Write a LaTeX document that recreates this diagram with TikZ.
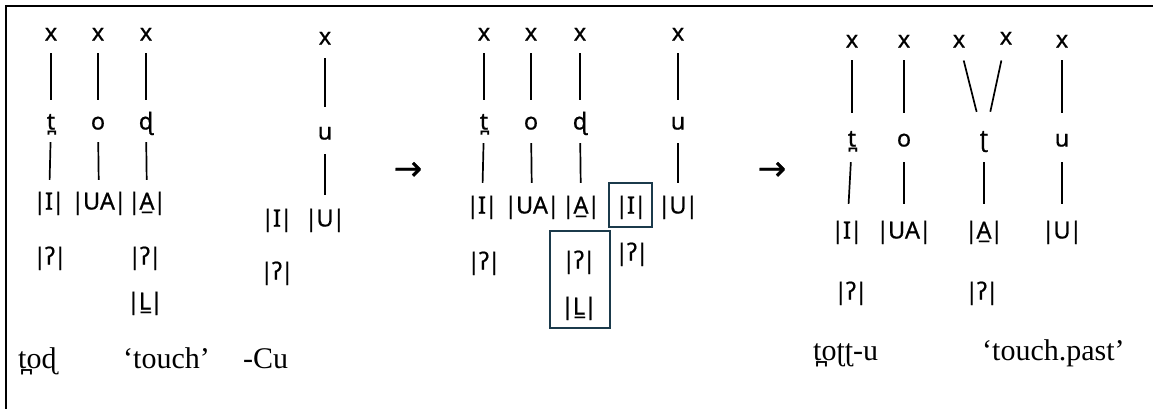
\documentclass[tikz,border=0pt]{standalone}
\usepackage{fontspec}
\newfontfamily\sansipa[FakeBold=0.6]{Noto Sans}
\newfontfamily\serifipa{Liberation Serif}
\newfontfamily\arrowfont[FakeBold=0.8]{DejaVu Sans}
\definecolor{boxc}{HTML}{1B3A4B}
% an element between bars, set a little tighter than the font's own spacing
\newcommand\elm[1]{|\kern-1.2pt#1\kern-1.2pt|}
\tikzset{
  ft/.style={font={\sansipa\fontsize{23.5}{28}\selectfont}, inner sep=0pt,
             text height=16pt, text depth=5pt, anchor=center},
  assoc/.style={line width=1.7pt, shorten <=7.5pt, shorten >=13.5pt},
  gloss/.style={font={\serifipa\fontsize{30}{34}\selectfont}, inner sep=0pt, anchor=base west},
  hl/.style={draw=boxc, line width=1.7pt, inner sep=0pt},
  arr/.style={font={\arrowfont\fontsize{34}{38}\selectfont}, inner sep=0pt}
}
\begin{document}
\begin{tikzpicture}[x=1pt,y=-1pt]
\useasboundingbox (0,0) rectangle (1153,408);
\clip (0,0) rectangle (1153,408);
% outer frame
\draw[line width=2.6pt] (6,6) rectangle (1180,440);

% ---- stem: tod 'touch'
\node[ft] (ax1) at (51,35) {x};
\node[ft] (ax2) at (98,35) {x};
\node[ft] (ax3) at (146,35) {x};
\node[ft] (as1) at (51,124) {t̪};
\node[ft] (as2) at (98,124) {o};
\node[ft] (as3) at (146,124) {ɖ};
\node[ft] (ae1) at (49,204) {\elm{I}};
\node[ft] (ae2) at (99,204) {\elm{UA}};
\node[ft] (ae3) at (147,204) {\elm{A̲}};
\node[ft] (aq1) at (50,259) {\elm{ʔ}};
\node[ft] (aq3) at (145,259) {\elm{ʔ}};
\node[ft] (aL3) at (145,304) {\elm{L̲}};
\draw[assoc, shorten >=13.5pt] (ax1) -- (as1);
\draw[assoc, shorten >=13.5pt] (ax2) -- (as2);
\draw[assoc, shorten >=13.5pt] (ax3) -- (as3);
\draw[assoc, shorten <=7.5pt, shorten >=13.5pt] (as1) -- (ae1);
\draw[assoc, shorten <=7.5pt, shorten >=13.5pt] (as2) -- (ae2);
\draw[assoc, shorten <=7.5pt, shorten >=13.5pt] (as3) -- (ae3);

% ---- suffix: -Cu
\node[ft] (bx) at (325,39) {x};
\node[ft] (bs) at (325,134) {u};
\node[ft] (be1) at (277,221) {\elm{I}};
\node[ft] (be2) at (325,221) {\elm{U}};
\node[ft] (bq1) at (277,274) {\elm{ʔ}};
\draw[assoc, shorten <=8.5pt, shorten >=16.5pt] (bx) -- (bs);
\draw[assoc, shorten <=9.5pt, shorten >=15.5pt] (bs) -- (be2);

\node[arr] (arrowA) at (408,171) {→};

% ---- concatenation
\node[ft] (cx1) at (484,35) {x};
\node[ft] (cx2) at (531,35) {x};
\node[ft] (cx3) at (580,35) {x};
\node[ft] (cx4) at (678,35) {x};
\node[ft] (cs1) at (484,124) {t̪};
\node[ft] (cs2) at (531,124) {o};
\node[ft] (cs3) at (580,124) {ɖ};
\node[ft] (cs4) at (678,124) {u};
\node[ft] (ce1) at (482,208) {\elm{I}};
\node[ft] (ce2) at (532,208) {\elm{UA}};
\node[ft] (ce3) at (581,208) {\elm{A̲}};
\node[ft] (ce4) at (631,208) {\elm{I}};
\node[ft] (ce5) at (678,208) {\elm{U}};
\node[ft] (cq1) at (484,264) {\elm{ʔ}};
\node[ft] (cq4) at (632,255) {\elm{ʔ}};
\node[ft] (cq3) at (579,263) {\elm{ʔ}};
\node[ft] (cL3) at (579,309) {\elm{L̲}};
\node[hl, minimum width=43pt, minimum height=44pt] (boxI) at (630.5,205) {};
\node[hl, minimum width=60pt, minimum height=97pt] (boxQL) at (580,279.5) {};
\draw[assoc, shorten >=13.5pt] (cx1) -- (cs1);
\draw[assoc, shorten >=13.5pt] (cx2) -- (cs2);
\draw[assoc, shorten >=13.5pt] (cx3) -- (cs3);
\draw[assoc, shorten >=13.5pt] (cx4) -- (cs4);
\draw[assoc, shorten <=8.5pt, shorten >=14.5pt] (cs1) -- (ce1);
\draw[assoc, shorten <=8.5pt, shorten >=14.5pt] (cs2) -- (ce2);
\draw[assoc, shorten <=8.5pt, shorten >=14.5pt] (cs3) -- (ce3);
\draw[assoc, shorten <=8.5pt, shorten >=14.5pt] (cs4) -- (ce5);

\node[arr] (arrowB) at (772,171) {→};

% ---- result: tott-u 'touch.past'
\node[ft] (dx1) at (852,42) {x};
\node[ft] (dx2) at (904,42) {x};
\node[ft] (dx3) at (959,42) {x};
\node[ft] (dx4) at (1006,39) {x};
\node[ft] (dx5) at (1062,42) {x};
\node[ft] (ds1) at (852,141) {t̪};
\node[ft] (ds2) at (904,141) {o};
\node[ft] (ds3) at (984,141) {ʈ};
\node[ft] (ds4) at (1062,141) {u};
\node[ft] (de1) at (847,233) {\elm{I}};
\node[ft] (de2) at (904,233) {\elm{UA}};
\node[ft] (de3) at (984,233) {\elm{A̲}};
\node[ft] (de4) at (1062,233) {\elm{U}};
\node[ft] (dq1) at (851,294) {\elm{ʔ}};
\node[ft] (dq3) at (982,294) {\elm{ʔ}};
\draw[assoc, shorten >=17.5pt] (dx1) -- (ds1);
\draw[assoc, shorten >=17.5pt] (dx2) -- (ds2);
\draw[assoc, shorten <=8pt, shorten >=19pt] (dx3) -- (ds3);
\draw[assoc, shorten <=11pt, shorten >=19pt] (dx4) -- (ds3);
\draw[assoc, shorten >=17.5pt] (dx5) -- (ds4);
\draw[assoc, shorten <=10.5pt, shorten >=18.5pt] (ds1) -- (de1);
\draw[assoc, shorten <=10.5pt, shorten >=18.5pt] (ds2) -- (de2);
\draw[assoc, shorten <=10.5pt, shorten >=18.5pt] (ds3) -- (de3);
\draw[assoc, shorten <=10.5pt, shorten >=18.5pt] (ds4) -- (de4);

% ---- glosses
\node[gloss] (g1) at (18,368) {t̪oɖ};
\node[gloss] (g2) at (123,368) {‘touch’};
\node[gloss] (g3) at (243,368) {-Cu};
\node[gloss] (g4) at (813,360) {t̪oʈʈ-u};
\node[gloss] (g5) at (982,360) {‘touch.past’};
\end{tikzpicture}
\end{document}
